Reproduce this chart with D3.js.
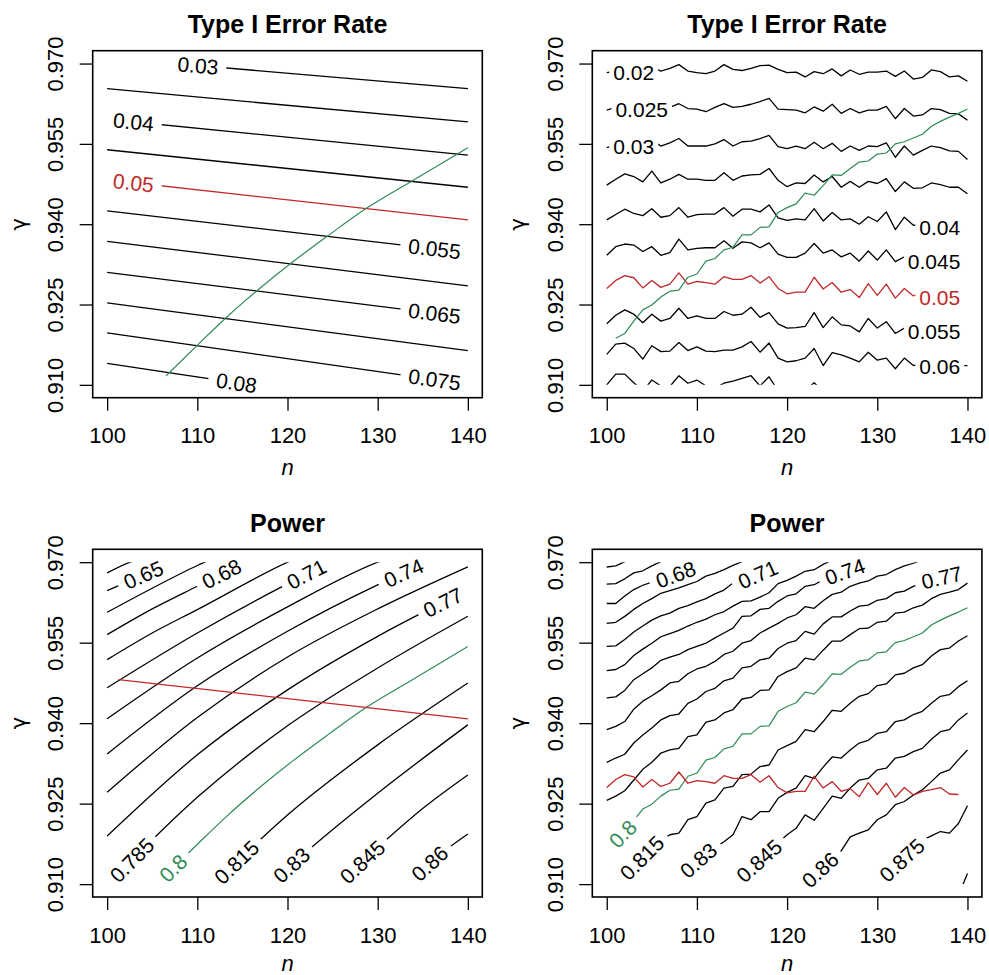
<!DOCTYPE html>
<html><head><meta charset="utf-8">
<script src="https://cdn.jsdelivr.net/npm/d3@7"></script>
<style>body{margin:0;background:#fff}svg{display:block}</style>
</head><body>
<svg id="c" width="989" height="975"></svg>
<script>
// ================= DATA =================
const nTicks = [100, 110, 120, 130, 140];
const gammaTicks = [0.910, 0.925, 0.940, 0.955, 0.970];
const gammaTickLabels = ["0.910", "0.925", "0.940", "0.955", "0.970"];
const panelTitles = ["Type I Error Rate", "Type I Error Rate", "Power", "Power"];

// ---- Panel A: analytic Type I error contours (value at n=100 and n=140) ----
const alphaLevelsA = [0.03, 0.035, 0.04, 0.045, 0.05, 0.055, 0.06, 0.065, 0.07, 0.075, 0.08];
const alphaA_n = [100, 140];
const alphaA_g100 = [0.9711, 0.9653, 0.9596, 0.9539, 0.9483, 0.9425, 0.9368, 0.9310, 0.9253, 0.9197, 0.9140];
const alphaA_g140 = [0.9653, 0.9591, 0.9529, 0.9469, 0.9408, 0.9347, 0.9285, 0.9226, 0.9164, 0.9101, 0.9039];
const alphaA_labels = [[0.03, 110.07], [0.04, 102.92], [0.05, 102.92], [0.055, 136.3], [0.065, 136.3], [0.075, 136.3], [0.08, 114.35]];

// ---- analytic power = 0.8 curve (green) ----
const power80A_n = [106.53, 110.04, 113.25, 116.94, 120.52, 124.5, 128.75, 133.8, 140];
const power80A_g = [0.91168, 0.91747, 0.92263, 0.92804, 0.93288, 0.93786, 0.94296, 0.94805, 0.95427];

// ---- analytic alpha = 0.05 curve (red) in Power panel ----
const alpha05A_n = [101.25, 140];
const alpha05A_g = [0.9481, 0.9408];

// ---- Panel C: analytic power contours ----
const powerC = [
  {level: 0.635, n: [100, 102.55, 104], g: [0.96801, 0.970, 0.9708]},
  {level: 0.65, n: [100, 104.02, 107.16, 110], g: [0.96471, 0.96763, 0.970, 0.9718]},
  {level: 0.665, n: [100, 105, 110, 113], g: [0.96066, 0.96515, 0.96938, 0.9716]},
  {level: 0.68, n: [100, 105, 110, 115.35, 118], g: [0.95649, 0.96129, 0.96552, 0.970, 0.9719]},
  {level: 0.695, n: [100, 105, 110, 120, 123], g: [0.95183, 0.9568, 0.96116, 0.970, 0.9722]},
  {level: 0.71, n: [100, 110, 120, 124.83, 128], g: [0.9466, 0.9568, 0.96595, 0.970, 0.9722]},
  {level: 0.725, n: [100, 110, 120, 130, 133], g: [0.94081, 0.95214, 0.96166, 0.970, 0.9718]},
  {level: 0.74, n: [100, 110, 120, 130, 135.61, 139], g: [0.93427, 0.94697, 0.95712, 0.96577, 0.970, 0.9722]},
  {level: 0.755, n: [100, 110, 120, 130, 140], g: [0.92712, 0.94106, 0.95232, 0.96129, 0.96913]},
  {level: 0.77, n: [100, 110, 120, 130, 140], g: [0.91896, 0.93409, 0.9462, 0.95618, 0.96483]},
  {level: 0.785, n: [100, 110, 120, 130, 140], g: [0.90981, 0.92618, 0.9395, 0.95027, 0.95992]},
  {level: 0.8, n: power80A_n, g: power80A_g},
  {level: 0.815, n: [110, 111.77, 120, 130, 140], g: [0.9072, 0.91, 0.92288, 0.93595, 0.94747]},
  {level: 0.83, n: [117.68, 120.44, 130, 140], g: [0.90919, 0.91355, 0.92693, 0.93969]},
  {level: 0.845, n: [125, 128.3, 130.77, 135.02, 140], g: [0.9090, 0.91417, 0.91797, 0.92413, 0.93035]},
  {level: 0.86, n: [133.5, 135.76, 140], g: [0.9100, 0.91386, 0.91934]}
];
const powerC_labels = [[0.65, 104.02], [0.68, 112.69], [0.71, 122.1], [0.74, 132.88], [0.77, 137.23],
  [0.785, 102.73], [0.8, 107.31], [0.815, 114.35], [0.83, 120.44], [0.845, 128.3], [0.86, 135.76]];

// ---- Panel B: simulated Type I error contours, one value per n starting at n0 ----
const alphaSim = [
  {level: 0.02, n0: 100, g: [0.9683,0.9686,0.9691,0.9688,0.9685,0.9694,0.9686,0.9691,0.9698,0.9686,0.9683,0.9681,0.9686,0.9698,0.9689,0.9687,0.9691,0.9696,0.9697,0.9689,0.9683,0.9684,0.9675,0.9685,0.9681,0.9690,0.9677,0.9688,0.9680,0.9684,0.9684,0.9686,0.9676,0.9686,0.9671,0.9674,0.9688,0.9685,0.9675,0.9677,0.9667]},
  {level: 0.025, n0: 100, g: [0.9613,0.9618,0.9622,0.9619,0.9614,0.9625,0.9613,0.9618,0.9625,0.9616,0.9615,0.9610,0.9618,0.9625,0.9618,0.9620,0.9624,0.9629,0.9635,0.9615,0.9614,0.9613,0.9608,0.9619,0.9611,0.9624,0.9607,0.9616,0.9608,0.9613,0.9613,0.9620,0.9597,0.9616,0.9602,0.9604,0.9616,0.9614,0.9607,0.9606,0.9594]},
  {level: 0.03, n0: 100, g: [0.9543,0.9548,0.9552,0.9550,0.9545,0.9557,0.9546,0.9552,0.9560,0.9546,0.9546,0.9546,0.9550,0.9558,0.9546,0.9554,0.9555,0.9560,0.9566,0.9545,0.9541,0.9546,0.9541,0.9553,0.9541,0.9551,0.9536,0.9546,0.9538,0.9546,0.9545,0.9552,0.9525,0.9546,0.9529,0.9538,0.9546,0.9543,0.9537,0.9536,0.9521]},
  {level: 0.035, n0: 100, g: [0.9473,0.9484,0.9494,0.9489,0.9479,0.9499,0.9477,0.9484,0.9493,0.9484,0.9484,0.9482,0.9482,0.9496,0.9482,0.9490,0.9492,0.9493,0.9504,0.9482,0.9470,0.9477,0.9476,0.9492,0.9479,0.9489,0.9469,0.9480,0.9469,0.9480,0.9476,0.9485,0.9461,0.9479,0.9467,0.9468,0.9477,0.9474,0.9469,0.9469,0.9457]},
  {level: 0.04, n0: 100, g: [0.9408,0.9418,0.9428,0.9420,0.9416,0.9429,0.9413,0.9416,0.9431,0.9413,0.9418,0.9419,0.9419,0.9431,0.9415,0.9428,0.9428,0.9423,0.9436,0.9412,0.9407,0.9410,0.9408,0.9429,0.9406,0.9422,0.9408,0.9410,0.9400,0.9414,0.9405,0.9423,0.9390,0.9413,0.9398,0.9401,0.9408,0.9403,0.9395,0.9395]},
  {level: 0.045, n0: 100, g: [0.9342,0.9358,0.9363,0.9361,0.9349,0.9358,0.9342,0.9347,0.9372,0.9352,0.9355,0.9356,0.9356,0.9369,0.9355,0.9367,0.9365,0.9356,0.9365,0.9344,0.9338,0.9338,0.9346,0.9364,0.9346,0.9352,0.9339,0.9346,0.9331,0.9350,0.9333,0.9352,0.9330,0.9339,0.9333,0.9336,0.9339,0.9336,0.9330,0.9330]},
  {level: 0.05, n0: 100, g: [0.9280,0.9295,0.9304,0.9300,0.9281,0.9295,0.9282,0.9288,0.9309,0.9288,0.9293,0.9291,0.9288,0.9302,0.9297,0.9297,0.9304,0.9290,0.9302,0.9280,0.9270,0.9273,0.9273,0.9301,0.9279,0.9291,0.9273,0.9278,0.9263,0.9289,0.9267,0.9288,0.9262,0.9280,0.9266,0.9273,0.9276,0.9280,0.9268,0.9267]},
  {level: 0.055, n0: 100, g: [0.9214,0.9230,0.9240,0.9232,0.9216,0.9232,0.9219,0.9224,0.9243,0.9224,0.9229,0.9224,0.9224,0.9237,0.9230,0.9232,0.9245,0.9226,0.9235,0.9214,0.9206,0.9207,0.9209,0.9235,0.9207,0.9227,0.9212,0.9210,0.9199,0.9224,0.9206,0.9218,0.9196,0.9206,0.9199,0.9202,0.9206,0.9206,0.9199,0.9199]},
  {level: 0.06, n0: 100, g: [0.9157,0.9176,0.9178,0.9168,0.9148,0.9173,0.9162,0.9163,0.9179,0.9164,0.9171,0.9163,0.9162,0.9165,0.9165,0.9171,0.9181,0.9161,0.9178,0.9150,0.9143,0.9145,0.9150,0.9168,0.9136,0.9160,0.9156,0.9150,0.9143,0.9161,0.9146,0.9150,0.9130,0.9150,0.9136,0.9140,0.9143,0.9140,0.9136,0.9136,0.9136]},
  {level: 0.065, n0: 100, g: [0.9100,0.9120,0.9120,0.9104,0.9088,0.9109,0.9098,0.9097,0.9117,0.9103,0.9109,0.9098,0.9094,0.9103,0.9107,0.9112,0.9117,0.9098,0.9115,0.9089,0.9081,0.9083,0.9089,0.9104,0.9087,0.9097,0.9092,0.9087,0.9081,0.9097,0.9084,0.9087,0.9069,0.9087,0.9075,0.9078,0.9081,0.9078,0.9075,0.9075,0.9075]}
];
const alphaSim_labels = [[0.02, 102.99, 0.9683], [0.025, 103.88, 0.9614], [0.03, 102.99, 0.9545], [0.04, 136.93, 0.9394],
  [0.045, 136.3, 0.9330], [0.05, 136.93, 0.9263], [0.055, 136.3, 0.9200], [0.06, 136.93, 0.9134]];

// ---- simulated power = 0.8 curve (green), n = 101..140 ----
const power80Sim = {n0: 101, g: [0.9187,0.9196,0.9219,0.9240,0.9249,0.9264,0.9275,0.9277,0.9301,0.9307,0.9331,0.9336,0.9352,0.9357,0.9380,0.9380,0.9394,0.9395,0.9422,0.9431,0.9438,0.9458,0.9454,0.9472,0.9492,0.9491,0.9504,0.9516,0.9518,0.9531,0.9533,0.9550,0.9554,0.9561,0.9568,0.9583,0.9592,0.9600,0.9607,0.9615]};

// ---- Panel D: simulated power contours ----
const powerSim = [
  {level: 0.65, n0: 100, g: [0.9691,0.9693,0.9701,0.9709]},
  {level: 0.665, n0: 100, g: [0.9659,0.9660,0.9669,0.9680,0.9684,0.9693,0.9701,0.9709]},
  {level: 0.68, n0: 100, g: [0.9623,0.9623,0.9637,0.9649,0.9657,0.9663,0.9668,0.9673,0.9679,0.9686,0.9694,0.9701,0.9709]},
  {level: 0.695, n0: 100, g: [0.9586,0.9588,0.9599,0.9612,0.9623,0.9632,0.9642,0.9647,0.9652,0.9658,0.9664,0.9674,0.9679,0.9686,0.9694,0.9701,0.9709]},
  {level: 0.71, n0: 100, g: [0.9543,0.9544,0.9556,0.9570,0.9581,0.9592,0.9600,0.9605,0.9614,0.9619,0.9626,0.9632,0.9641,0.9648,0.9661,0.9666,0.9671,0.9679,0.9686,0.9698,0.9705,0.9711]},
  {level: 0.725, n0: 100, g: [0.9498,0.9500,0.9509,0.9526,0.9538,0.9549,0.9561,0.9567,0.9573,0.9581,0.9588,0.9594,0.9602,0.9608,0.9618,0.9627,0.9628,0.9635,0.9643,0.9660,0.9666,0.9674,0.9683,0.9686,0.9696,0.9704,0.9710]},
  {level: 0.74, n0: 100, g: [0.9447,0.9449,0.9461,0.9481,0.9492,0.9503,0.9517,0.9523,0.9528,0.9537,0.9543,0.9549,0.9559,0.9568,0.9577,0.9599,0.9600,0.9612,0.9614,0.9627,0.9637,0.9641,0.9655,0.9658,0.9667,0.9677,0.9680,0.9686,0.9693,0.9698,0.9704,0.9710]},
  {level: 0.755, n0: 100, g: [0.9388,0.9394,0.9403,0.9426,0.9441,0.9451,0.9462,0.9475,0.9478,0.9492,0.9501,0.9506,0.9515,0.9528,0.9534,0.9549,0.9554,0.9568,0.9577,0.9586,0.9596,0.9602,0.9617,0.9614,0.9628,0.9640,0.9644,0.9655,0.9661,0.9665,0.9674,0.9677,0.9686,0.9693,0.9698,0.9704,0.9710]},
  {level: 0.77, n0: 100, g: [0.9327,0.9335,0.9342,0.9363,0.9378,0.9391,0.9406,0.9414,0.9417,0.9437,0.9445,0.9459,0.9465,0.9479,0.9484,0.9503,0.9506,0.9518,0.9521,0.9539,0.9549,0.9554,0.9571,0.9566,0.9585,0.9598,0.9598,0.9609,0.9618,0.9620,0.9629,0.9632,0.9643,0.9646,0.9655,0.9661,0.9666,0.9671,0.9674,0.9677,0.9681]},
  {level: 0.785, n0: 100, g: [0.9256,0.9264,0.9274,0.9294,0.9314,0.9327,0.9344,0.9350,0.9353,0.9375,0.9378,0.9402,0.9406,0.9419,0.9425,0.9445,0.9448,0.9461,0.9462,0.9487,0.9496,0.9503,0.9521,0.9518,0.9536,0.9553,0.9553,0.9565,0.9576,0.9577,0.9588,0.9590,0.9605,0.9607,0.9615,0.9620,0.9632,0.9640,0.9644,0.9649,0.9661]},
  {level: 0.8, n0: power80Sim.n0, g: power80Sim.g},
  {level: 0.815, n0: 101, g: [0.9095,0.9114,0.9132,0.9151,0.9167,0.9181,0.9192,0.9195,0.9220,0.9226,0.9251,0.9257,0.9279,0.9282,0.9304,0.9305,0.9319,0.9322,0.9350,0.9358,0.9366,0.9388,0.9384,0.9403,0.9424,0.9422,0.9437,0.9450,0.9455,0.9470,0.9473,0.9490,0.9493,0.9503,0.9509,0.9525,0.9537,0.9540,0.9553,0.9563]},
  {level: 0.83, n0: 107, g: [0.9089,0.9108,0.9125,0.9142,0.9157,0.9168,0.9179,0.9192,0.9226,0.9220,0.9235,0.9235,0.9260,0.9271,0.9279,0.9302,0.9297,0.9318,0.9337,0.9335,0.9350,0.9363,0.9368,0.9381,0.9384,0.9403,0.9406,0.9416,0.9422,0.9437,0.9450,0.9453,0.9468,0.9479]},
  {level: 0.845, n0: 113, g: [0.9086,0.9101,0.9117,0.9129,0.9145,0.9163,0.9177,0.9192,0.9204,0.9229,0.9219,0.9241,0.9264,0.9260,0.9279,0.9294,0.9297,0.9313,0.9316,0.9335,0.9338,0.9347,0.9353,0.9370,0.9384,0.9388,0.9406,0.9419]},
  {level: 0.86, n0: 121, g: [0.9086,0.9101,0.9117,0.9132,0.9151,0.9162,0.9188,0.9195,0.9201,0.9220,0.9229,0.9248,0.9254,0.9266,0.9276,0.9291,0.9307,0.9313,0.9332,0.9350]},
  {level: 0.875, n0: 129, g: [0.9086,0.9104,0.9120,0.9132,0.9150,0.9167,0.9182,0.9190,0.9198,0.9195,0.9213,0.9246]},
  {level: 0.89, n0: 139, g: [0.9079,0.9120]}
];
const powerSim_labels = [[0.68, 107.65], [0.71, 116.75], [0.74, 126.43], [0.77, 137.15], [0.8, 101.77],
  [0.815, 103.9], [0.83, 110.17], [0.845, 116.9], [0.86, 123.66], [0.875, 132.72]];

// ================= DRAWING =================
const W = 989, H = 975;
const FONT = "'Liberation Sans', Arial, Helvetica, sans-serif";
const RED = "#C0282A", GREEN = "#2E8B57";
const svg = d3.select("#c");
const defs = svg.append("defs");
const xDomain = [98.4, 141.6], yDomain = [0.9076, 0.9724];
const boxes = [
  {x0: 92.7, x1: 482.3, y0: 50.7, y1: 397.7, ty: 33},
  {x0: 592.3, x1: 981.9, y0: 50.7, y1: 397.7, ty: 33},
  {x0: 92.7, x1: 482.3, y0: 549.3, y1: 897, ty: 532},
  {x0: 592.3, x1: 981.9, y0: 549.3, y1: 897, ty: 532}
];
let maskCount = 0;

function fmt(v) { return String(+v.toFixed(4)); }
function simPts(c) { return c.g.map((g, i) => [c.n0 + i, g]); }
function smoothPts(c) { return c.n.map((n, i) => [n, c.g[i]]); }

function frame(k) {
  const b = boxes[k];
  const x = d3.scaleLinear().domain(xDomain).range([b.x0, b.x1]);
  const y = d3.scaleLinear().domain(yDomain).range([b.y1, b.y0]);
  const gx = svg.append("g").attr("transform", `translate(0,${b.y1})`)
    .call(d3.axisBottom(x).tickValues(nTicks).tickSize(13).tickSizeOuter(0));
  gx.select(".domain").remove();
  gx.attr("font-size", 22).attr("font-family", FONT);
  gx.selectAll("line").attr("stroke", "#000").attr("stroke-width", 1.3);
  gx.selectAll("text").attr("fill", "#000").attr("y", 45.8).attr("dy", null);
  const gy = svg.append("g").attr("transform", `translate(${b.x0},0)`)
    .call(d3.axisLeft(y).tickValues(gammaTicks).tickFormat((d, i) => gammaTickLabels[i]).tickSize(13).tickSizeOuter(0));
  gy.select(".domain").remove();
  gy.attr("font-size", 22).attr("font-family", FONT);
  gy.selectAll("line").attr("stroke", "#000").attr("stroke-width", 1.3);
  gy.selectAll("text").attr("fill", "#000").attr("x", null).attr("dy", null)
    .attr("text-anchor", "middle").attr("transform", "translate(-29.4,0) rotate(-90)");
  svg.append("rect").attr("x", b.x0).attr("y", b.y0).attr("width", b.x1 - b.x0).attr("height", b.y1 - b.y0)
    .attr("fill", "none").attr("stroke", "#000").attr("stroke-width", 1.6);
  const cx = (b.x0 + b.x1) / 2;
  svg.append("text").attr("x", cx).attr("y", b.ty).attr("text-anchor", "middle")
    .attr("font-family", FONT).attr("font-weight", "bold").attr("font-size", 25).text(panelTitles[k]);
  svg.append("text").attr("x", cx).attr("y", Math.min(b.y1 + 77.5, 971)).attr("text-anchor", "middle")
    .attr("font-family", FONT).attr("font-style", "italic").attr("font-size", 22).text("n");
  svg.append("text").attr("transform", `translate(${b.x0 - 67.2},${(b.y0 + b.y1) / 2}) rotate(-90)`)
    .attr("text-anchor", "middle").attr("font-family", "'DejaVu Sans', sans-serif").attr("font-size", 21).text("\u03B3");
  const cid = "clip" + k;
  defs.append("clipPath").attr("id", cid).append("rect")
    .attr("x", x(100) - 1).attr("y", y(0.97))
    .attr("width", x(140) - x(100) + 2).attr("height", y(0.91) - y(0.97));
  const lines = svg.append("g").attr("clip-path", `url(#${cid})`);
  const labels = svg.append("g");
  return {x, y, lines, labels};
}

function pointAtX(node, tx) {
  const L = node.getTotalLength();
  let lo = 0, hi = L;
  for (let i = 0; i < 40; i++) {
    const mid = (lo + hi) / 2;
    if (node.getPointAtLength(mid).x < tx) lo = mid; else hi = mid;
  }
  return node.getPointAtLength((lo + hi) / 2);
}

function drawLine(P, pts, color, curve, width) {
  const gen = d3.line().x(d => P.x(d[0])).y(d => P.y(d[1])).curve(curve);
  return P.lines.append("path").datum(pts).attr("d", gen).attr("fill", "none")
    .attr("stroke", color).attr("stroke-width", width).attr("stroke-linejoin", "round");
}

// line ends that leave the plotting region (top or bottom edge)
function atEdge(g) { return g < 0.912 || g > 0.969; }

// place a label on a path, cutting the line under it
function label(P, path, text, n, color, opt) {
  const node = path.node();
  const pts = path.datum();
  const tx = P.x(n);
  let cx, cy, ang = 0;
  if (opt.g !== undefined) { cx = tx; cy = P.y(opt.g); }
  else {
    const p0 = pointAtX(node, tx); cx = p0.x; cy = p0.y;
    if (opt.rotate) {
      const a = pointAtX(node, tx - opt.dx), c = pointAtX(node, tx + opt.dx);
      ang = Math.atan2(c.y - a.y, c.x - a.x) * 180 / Math.PI;
    }
  }
  const g = P.labels.append("g").attr("transform", `translate(${cx},${cy}) rotate(${ang})`);
  const t = g.append("text").attr("text-anchor", "middle").attr("dy", "0.36em")
    .attr("font-family", FONT).attr("font-size", 21).attr("fill", color).text(text);
  const w = t.node().getComputedTextLength();
  let padL = opt.pad, padR = opt.pad;
  if (opt.rotate) {
    const cosA = Math.cos(ang * Math.PI / 180);
    const xEnd = Math.min(P.x(pts[pts.length - 1][0]), P.x(140));
    if (atEdge(pts[0][1])) padL += 12;
    if (atEdge(pts[pts.length - 1][1]) || (xEnd - cx) < (w / 2 + padR + 12) * cosA) padR += 12;
  }
  const id = "m" + (maskCount++);
  const m = defs.append("mask").attr("id", id).attr("maskUnits", "userSpaceOnUse")
    .attr("x", 0).attr("y", 0).attr("width", W).attr("height", H);
  m.append("rect").attr("x", 0).attr("y", 0).attr("width", W).attr("height", H).attr("fill", "#fff");
  m.append("rect").attr("x", -w / 2 - padL).attr("y", -opt.h / 2).attr("width", w + padL + padR)
    .attr("height", opt.h).attr("fill", "#000").attr("transform", `translate(${cx},${cy}) rotate(${ang})`);
  path.attr("mask", `url(#${id})`);
}

// ---- Panel A ----
{
  const P = frame(0);
  alphaLevelsA.forEach((lv, i) => {
    const col = lv === 0.05 ? RED : "#000";
    const path = drawLine(P, alphaA_n.map((n, j) => [n, j === 0 ? alphaA_g100[i] : alphaA_g140[i]]), col, d3.curveLinear, 1.3);
    const lb = alphaA_labels.find(l => l[0] === lv);
    if (lb) label(P, path, fmt(lv), lb[1], col, {rotate: true, dx: 4, pad: 8, h: 22});
  });
  drawLine(P, smoothPts({n: power80A_n, g: power80A_g}), GREEN, d3.curveMonotoneX, 1.2);
}
// ---- Panel B ----
{
  const P = frame(1);
  alphaSim.forEach(c => {
    const col = c.level === 0.05 ? RED : "#000";
    const path = drawLine(P, simPts(c), col, d3.curveLinear, 1.3);
    const lb = alphaSim_labels.find(l => l[0] === c.level);
    if (lb) label(P, path, fmt(c.level), lb[1], col, {g: lb[2], pad: 4, h: 40});
  });
  drawLine(P, simPts(power80Sim), GREEN, d3.curveLinear, 1.2);
}
// ---- Panel C ----
{
  const P = frame(2);
  powerC.forEach(c => {
    const col = c.level === 0.8 ? GREEN : "#000";
    const path = drawLine(P, smoothPts(c), col, d3.curveMonotoneX, c.level === 0.8 ? 1.2 : 1.3);
    const lb = powerC_labels.find(l => l[0] === c.level);
    if (lb) label(P, path, fmt(c.level), lb[1], col, {rotate: true, dx: 4, pad: 7, h: 22});
  });
  drawLine(P, smoothPts({n: alpha05A_n, g: alpha05A_g}), RED, d3.curveLinear, 1.3);
}
// ---- Panel D ----
{
  const P = frame(3);
  powerSim.forEach(c => {
    const col = c.level === 0.8 ? GREEN : "#000";
    const path = drawLine(P, simPts(c), col, d3.curveLinear, c.level === 0.8 ? 1.2 : 1.3);
    const lb = powerSim_labels.find(l => l[0] === c.level);
    if (lb) label(P, path, fmt(c.level), lb[1], col, {rotate: true, dx: 18, pad: 7, h: 24});
  });
  drawLine(P, simPts(alphaSim.find(c => c.level === 0.05)), RED, d3.curveLinear, 1.3);
}
</script>
</body></html>
